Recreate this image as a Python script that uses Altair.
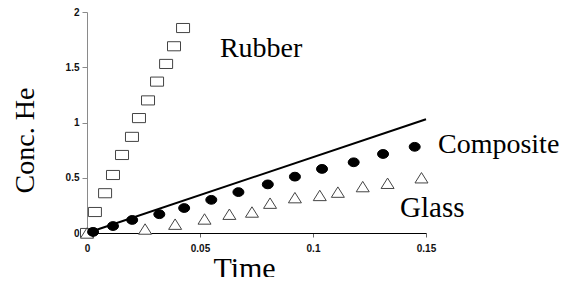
import altair as alt
import pandas as pd

# Data
rubber_t = [0, 0.0035, 0.008, 0.0115, 0.0155, 0.0199, 0.023, 0.027, 0.031, 0.035, 0.0385, 0.0425]
rubber_c = [0, 0.19, 0.36, 0.525, 0.706, 0.87, 1.04, 1.20, 1.37, 1.53, 1.69, 1.855]

composite_t = [0.0027, 0.0115, 0.020, 0.032, 0.043, 0.055, 0.067, 0.080, 0.092, 0.104, 0.118, 0.131, 0.145]
composite_c = [0.01, 0.063, 0.118, 0.17, 0.226, 0.30, 0.37, 0.44, 0.51, 0.58, 0.64, 0.715, 0.78]

glass_t = [0, 0.0257, 0.039, 0.052, 0.063, 0.073, 0.081, 0.092, 0.103, 0.111, 0.122, 0.133, 0.148]
glass_c = [0, 0.036, 0.08, 0.127, 0.17, 0.19, 0.27, 0.32, 0.34, 0.37, 0.42, 0.45, 0.50]

fit_t = [0, 0.15]
fit_c = [0, 1.03]

label_names = ["Rubber", "Composite", "Glass"]
label_t = [0.0588, 0.1553, 0.1385]
label_c = [1.593, 0.724, 0.145]
label_sizes = [28, 28, 29]

x_ticks = [0, 0.05, 0.1, 0.15]
y_ticks = [0, 0.5, 1, 1.5, 2]

rubber = pd.DataFrame({"t": rubber_t, "c": rubber_c})
composite = pd.DataFrame({"t": composite_t, "c": composite_c})
glass = pd.DataFrame({"t": glass_t, "c": glass_c})
fit = pd.DataFrame({"t": fit_t, "c": fit_c})
labels = pd.DataFrame({"name": label_names, "t": label_t, "c": label_c, "s": label_sizes})

xs = alt.Scale(domain=[0, 0.15], nice=False, zero=False)
ys = alt.Scale(domain=[0, 2], nice=False, zero=False)

x_axis = alt.Axis(
    values=x_ticks, format=".3~g", title="Time", grid=False,
    domainColor="black", domainWidth=1, tickColor="#666", tickSize=4,
    labelFont="Liberation Sans", labelFontWeight="bold", labelFontSize=10,
    labelColor="#111", labelPadding=6, labelFlush=False, labelOverlap=False,
    titleFont="Liberation Serif", titleFontSize=30, titleFontWeight="normal",
    titleColor="black", titleX=157, titleY=44, titleAlign="center",
    titleBaseline="alphabetic",
)
y_axis = alt.Axis(
    values=y_ticks, format=".3~g", title="Conc. He", grid=False,
    domainColor="#8a8a8a", domainWidth=1, tickColor="#8a8a8a", tickSize=5,
    labelFont="Liberation Sans", labelFontWeight="bold", labelFontSize=10,
    labelColor="#111", labelPadding=3, labelFlush=False, labelOverlap=False,
    titleFont="Liberation Serif", titleFontSize=28, titleFontWeight="normal",
    titleColor="black", titleAngle=270, titleX=-62, titleY=128,
    titleAlign="center", titleBaseline="middle",
)

def xe():
    return alt.X("t:Q", scale=xs, axis=x_axis)

def ye():
    return alt.Y("c:Q", scale=ys, axis=y_axis)

rect_path = "M-1,-0.7H1V0.7H-1Z"
ell_path = "M-1,0A1,0.8 0 1,0 1,0A1,0.8 0 1,0 -1,0Z"
tri_path = "M0,-0.8L1,0.8L-1,0.8Z"

fit_line = alt.Chart(fit).mark_line(color="black", strokeWidth=2).encode(x=xe(), y=ye())

rub = alt.Chart(rubber).mark_point(
    shape=rect_path, size=169, filled=True, fill="white", stroke="#444", strokeWidth=1, opacity=1
).encode(x=xe(), y=ye())

gla = alt.Chart(glass).mark_point(
    shape=tri_path, size=169, filled=True, fill="white", stroke="#444", strokeWidth=1, opacity=1
).encode(x=xe(), y=ye())

com = alt.Chart(composite).mark_point(
    shape=ell_path, size=121, filled=True, fill="black", stroke="black", strokeWidth=1, opacity=1
).encode(x=xe(), y=ye())

txt = alt.Chart(labels).mark_text(
    font="Liberation Serif", align="left", baseline="alphabetic", color="black"
).encode(x=xe(), y=ye(), text="name:N", size=alt.Size("s:Q", scale=None, legend=None))

chart = alt.layer(fit_line, rub, gla, com, txt).properties(
    width=339, height=221,
    autosize=alt.AutoSizeParams(type="none"),
    padding={"left": 79, "top": 4, "right": 135, "bottom": 44},
    background="white",
).configure_view(stroke=None)

chart.save("out.html", embed_options={"renderer": "svg", "actions": False})
